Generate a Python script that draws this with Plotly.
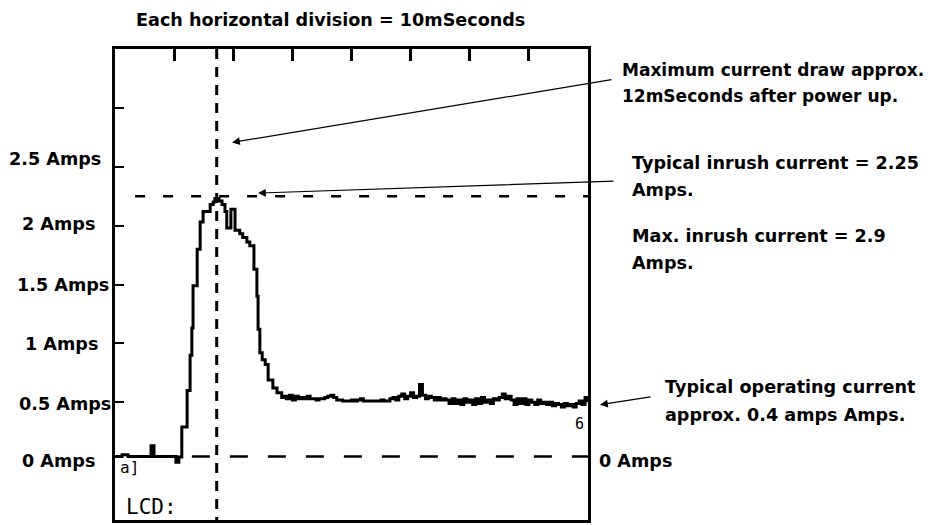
import plotly.graph_objects as go

# ---------------- data (time in ms, current in Amps) ----------------
rise_t = [0.0, 1.2, 2.2, 6.1, 6.6, 10.3, 10.8, 11.3, 12.2, 12.7, 13.0, 13.2, 13.9, 14.4,
          14.9, 15.6, 16.1, 16.6, 16.9, 17.6, 18.1, 18.6, 18.9, 19.6, 20.3, 21.1, 21.6,
          22.3, 22.8, 23.5, 24.0, 24.2, 24.5, 24.9, 25.4, 25.9, 26.7, 27.4, 28.2]
rise_a = [0.04, 0.055, 0.04, 0.13, 0.04, -0.01, 0.035, 0.29, 0.60, 0.90, 1.13, 1.49, 1.80, 2.03,
          2.12, 2.12, 2.18, 2.20, 2.23, 2.21, 2.18, 2.12, 1.98, 2.14, 1.96, 1.93, 1.90,
          1.86, 1.83, 1.63, 1.40, 1.12, 0.92, 0.86, 0.82, 0.69, 0.62, 0.58, 0.54]

flat_t = [28.5, 29.0, 29.5, 30.0, 30.5, 31.0, 31.5, 32.0, 32.5, 33.0, 33.5, 34.0, 34.5, 35.0,
          35.5, 36.0, 36.5, 37.0, 37.5, 38.0, 38.5, 39.0, 39.5, 40.0, 40.5, 41.0, 41.5, 42.0,
          42.5, 43.0, 43.5, 44.0, 44.5, 45.0, 45.5, 46.0, 46.5, 47.0, 47.5, 48.0, 48.5, 49.0,
          49.5, 50.0, 50.5, 51.0, 51.5, 52.0, 52.5, 53.0, 53.5, 54.0, 54.5, 55.0, 55.5, 56.0,
          56.5, 57.0, 57.5, 58.0, 58.5, 59.0, 59.5, 60.0, 60.5, 61.0, 61.5, 62.0, 62.5, 63.0,
          63.5, 64.0, 64.5, 65.0, 65.5, 66.0, 66.5, 67.0, 67.5, 68.0, 68.5, 69.0, 69.5, 70.0,
          70.5, 71.0, 71.5, 72.0, 72.5, 73.0, 73.5, 74.0, 74.5, 75.0, 75.5, 76.0, 76.5, 77.0,
          77.5, 78.0, 78.5, 79.0, 79.5, 80.0]
flat_a = [0.55, 0.53, 0.56, 0.52, 0.55,
          0.53, 0.54, 0.53, 0.55, 0.53, 0.53, 0.52, 0.53, 0.53,
          0.54, 0.55, 0.56, 0.54, 0.52,
          0.52, 0.51, 0.51,
          0.51, 0.52, 0.51, 0.52, 0.53, 0.51, 0.51, 0.51,
          0.51, 0.51, 0.51, 0.52, 0.51, 0.51,
          0.53, 0.54,
          0.52, 0.55, 0.57, 0.53, 0.55, 0.58, 0.54, 0.55,
          0.65, 0.56, 0.53,
          0.55, 0.54, 0.52, 0.54, 0.52, 0.53, 0.52,
          0.49, 0.53, 0.49, 0.52, 0.48, 0.53, 0.50, 0.52, 0.48, 0.53, 0.49, 0.54, 0.50, 0.52, 0.49,
          0.53, 0.52, 0.54, 0.57, 0.53, 0.55, 0.52,
          0.48, 0.53, 0.49, 0.53, 0.48, 0.52, 0.50, 0.48, 0.52, 0.49, 0.50,
          0.48, 0.50, 0.47, 0.49, 0.48, 0.46, 0.49, 0.47, 0.48, 0.46,
          0.49, 0.51, 0.48, 0.54, 0.50]

x_div_ticks = [10, 20, 30, 40, 50, 60, 70]
y_ticks = [0.5, 1.0, 1.5, 2.0, 2.5, 3.0]
y_labels = ["0 Amps", "0.5 Amps", "1 Amps", "1.5 Amps", "2 Amps", "2.5 Amps"]

peak_time = 17.2
typical_inrush = 2.25
zero_level = 0.04

# ---------------- layout helpers (screen pixel -> paper) ----------------
OFF = 8                      # page body margin
W, H = 933 - OFF, 525 - OFF
L, R, T, B = 115, 588, 49, 523   # frame edges in screen pixels
def px(x):
    return (x - L) / (R - L)
def py(y):
    return (B - y) / (B - T)

FONT = "DejaVu Sans"
FS = 17.6

fig = go.Figure()

# dashed reference lines
fig.add_trace(go.Scatter(x=[3.4, 80], y=[typical_inrush, typical_inrush], mode="lines",
                         line=dict(color="black", width=2.5, dash="10px,18px"),
                         showlegend=False, hoverinfo="skip"))
fig.add_trace(go.Scatter(x=[13.0, 80], y=[zero_level, zero_level], mode="lines",
                         line=dict(color="black", width=2.5, dash="18px,20px"),
                         showlegend=False, hoverinfo="skip"))
fig.add_trace(go.Scatter(x=[peak_time, peak_time], y=[3.5, -0.5], mode="lines",
                         line=dict(color="black", width=3, dash="10px,8px"),
                         showlegend=False, hoverinfo="skip"))

# current trace
fig.add_trace(go.Scatter(x=rise_t + flat_t, y=rise_a + flat_a, mode="lines",
                         line=dict(color="black", width=3, shape="hv"),
                         showlegend=False, hoverinfo="skip"))

fig.update_xaxes(range=[0, 80], side="top", showgrid=False, zeroline=False,
                 showline=True, mirror=True, linecolor="black", linewidth=3,
                 ticks="inside", tickvals=x_div_ticks, ticklen=12, tickwidth=2.5,
                 tickcolor="black", showticklabels=False, fixedrange=True)
fig.update_yaxes(range=[-0.5, 3.5], showgrid=False, zeroline=False,
                 showline=True, mirror=True, linecolor="black", linewidth=3,
                 ticks="inside", tickvals=y_ticks, ticklen=9, tickwidth=2.2,
                 tickcolor="black", showticklabels=False, fixedrange=True)

ann = []
def txt(s, x, y, anchor="left", size=FS, bold=True, family=FONT):
    ann.append(dict(text=("<b>%s</b>" % s) if bold else s, x=px(x), y=py(y),
                    xref="paper", yref="paper", xanchor=anchor, yanchor="middle",
                    showarrow=False, font=dict(family=family, size=size, color="black")))

# title
txt("Each horizontal division = 10mSeconds", 134, 20)

# left amp labels (right-aligned near the frame)
label_px = {"0 Amps": (97, 464), "0.5 Amps": (113, 406), "1 Amps": (100, 346),
            "1.5 Amps": (111, 287), "2 Amps": (97, 225), "2.5 Amps": (103, 160)}
for lab in y_labels:
    x, y = label_px[lab]
    txt(lab, x, y, anchor="right")

# right-side notes
txt("Maximum current draw approx.", 620, 70, size=17.0)
txt("12mSeconds after power up.", 620, 96, size=17.0)
txt("Typical inrush current = 2.25", 630, 164)
txt("Amps.", 630, 191)
txt("Max. inrush current = 2.9", 630, 237)
txt("Amps.", 630, 264)
txt("Typical operating current", 663, 389)
txt("approx. 0.4 amps Amps.", 663, 417)
txt("0 Amps", 597, 464)

# scope screen marks
txt("a]", 118, 470, size=16, bold=False, family="DejaVu Sans Mono")
txt("6", 573, 426, size=15, bold=False, family="DejaVu Sans Mono")
txt("LCD:", 124, 510, size=21, bold=False, family="DejaVu Sans Mono")

# arrows (head position, tail offset in pixels)
for hx, hy, tx, ty in [(232, 143, 613, 80), (258, 194, 615, 182), (600, 407, 652, 399)]:
    ann.append(dict(text="", x=px(hx), y=py(hy), xref="paper", yref="paper",
                    ax=tx - hx, ay=ty - hy, showarrow=True, arrowhead=2,
                    arrowsize=1.3, arrowwidth=1.2, arrowcolor="black", standoff=0))

fig.update_layout(width=W, height=H, autosize=False,
                  margin=dict(l=L - OFF, r=W - (R - OFF), t=T - OFF, b=H - (B - OFF)),
                  paper_bgcolor="white", plot_bgcolor="white",
                  annotations=ann, showlegend=False)

fig.write_html("out.html")
